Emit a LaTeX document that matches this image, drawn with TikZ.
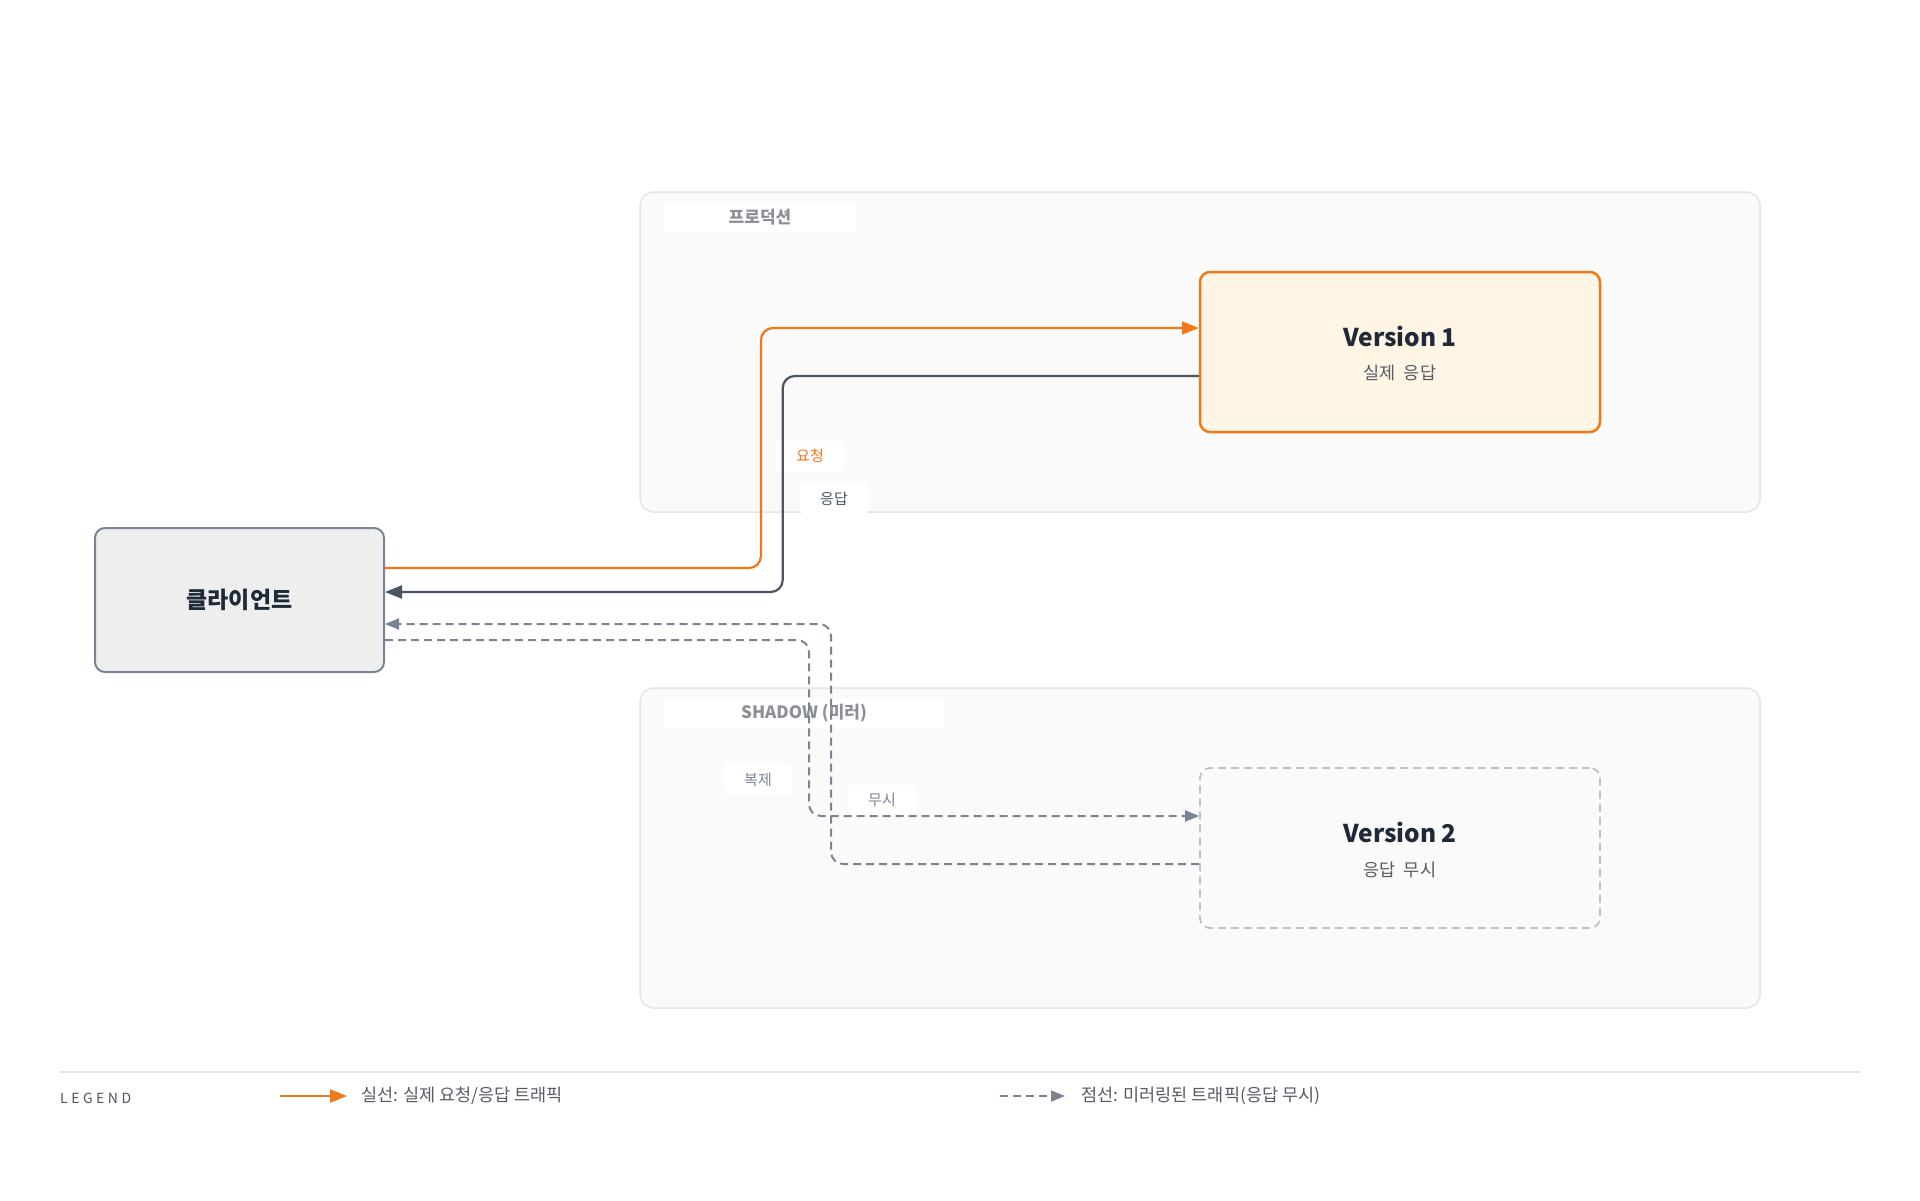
\documentclass[tikz,border=0pt]{standalone}
\usepackage{fontspec}
\setmainfont{Noto Sans CJK KR}
\newfontfamily\legendfont[LetterSpace=25]{Noto Sans CJK KR}
\usetikzlibrary{arrows.meta}
\definecolor{reqorange}{RGB}{240,120,22}
\definecolor{resgray}{RGB}{75,85,99}
\definecolor{slate}{RGB}{123,132,148}
\definecolor{zonefill}{RGB}{250,250,250}
\definecolor{zoneline}{RGB}{230,230,230}
\definecolor{titlegray}{RGB}{138,143,152}
\definecolor{v1fill}{RGB}{255,245,229}
\definecolor{clientfill}{RGB}{238,238,238}
\definecolor{v2line}{RGB}{190,193,198}
\definecolor{ink}{RGB}{31,41,55}
\definecolor{subink}{RGB}{85,91,101}

\begin{document}
\begin{tikzpicture}[x=1pt,y=-1pt,
	zone/.style={draw=zoneline,fill=zonefill,line width=1.5pt,rounded corners=14pt,minimum width=1120pt,minimum height=320pt,inner sep=0pt},
	zonetitle/.style={fill=white,rounded corners=4pt,minimum height=30pt,inner sep=0pt,text=titlegray,font=\fontsize{17}{20}\selectfont\bfseries},
	svcbox/.style={rounded corners=10pt,minimum width=400pt,minimum height=160pt,inner sep=0pt},
	svctitle/.style={inner sep=0pt,text=ink,font=\fontsize{24.5}{29}\selectfont\bfseries},
	svcnote/.style={inner sep=0pt,text=subink,font=\fontsize{17.5}{21}\selectfont},
	flowlabel/.style={fill=white,rounded corners=4pt,minimum width=68pt,minimum height=31pt,inner sep=0pt,font=\fontsize{15}{18}\selectfont},
	reqline/.style={draw=reqorange,line width=2.2pt,rounded corners=12pt,-{Triangle[length=17pt,width=13pt]}},
	resline/.style={draw=resgray,line width=2.2pt,rounded corners=12pt,-{Triangle[length=17pt,width=13pt]}},
	mirline/.style={draw=slate,line width=2pt,dash pattern=on 8pt off 5pt,rounded corners=12pt,-{Triangle[length=14pt,width=11pt]}},
	legendtext/.style={inner sep=0pt,anchor=west,text=subink,font=\fontsize{17.5}{21}\selectfont}]
	\fill[white] (0,0) rectangle (1920,1200);
	\useasboundingbox (0,0) rectangle (1920,1200);

	\node[zone] (prod) at (1200,352) {};
	\node[zone] (shadow) at (1200,848) {};
	\node[zonetitle,minimum width=192pt] (prodtitle) at (760,217.5) {프로덕션};
	\node[zonetitle,minimum width=280pt] (shadowtitle) at (804,713.5) {SHADOW (미러)};

	\node[svcbox,draw=reqorange,fill=v1fill,line width=2.5pt] (v1) at (1400,352) {};
	\node[svctitle] (v1title) at (1400,336) {Version 1};
	\node[svcnote] (v1note) at (1400,373) {실제\hspace{0.45em}응답};
	\node[svcbox,draw=v2line,fill=zonefill,line width=1.8pt,dash pattern=on 8pt off 5pt] (v2) at (1400,848) {};
	\node[svctitle] (v2title) at (1400,832) {Version 2};
	\node[svcnote] (v2note) at (1400,870) {응답\hspace{0.45em}무시};

	\node[draw=slate,fill=clientfill,line width=2pt,rounded corners=10pt,minimum width=289pt,minimum height=144pt,text=ink,font=\fontsize{23}{28}\selectfont\bfseries] (client) at (239.5,600) {클라이언트};

	\node[flowlabel,text=reqorange] (reqlabel) at (810,456) {요청};
	\node[flowlabel,text=resgray] (reslabel) at (834,498.5) {응답};
	\node[flowlabel,text=slate] (copylabel) at (758,779.5) {복제};
	\node[flowlabel,text=slate] (droplabel) at (882,800) {무시};

	\coordinate (reqout) at ([yshift=32pt]client.east);
	\coordinate (reqin) at ([yshift=24pt]v1.west);
	\coordinate (resout) at ([yshift=-24pt]v1.west);
	\coordinate (resin) at ([yshift=8pt]client.east);
	\coordinate (copyout) at ([yshift=-40pt]client.east);
	\coordinate (copyin) at ([yshift=32pt]v2.west);
	\coordinate (dropout) at ([yshift=-16pt]v2.west);
	\coordinate (dropin) at ([yshift=-24pt]client.east);
	\draw[reqline] (reqout) -- ++(376,0) |- (reqin);
	\draw[resline] (resout) -- ++(-416,0) |- (resin);
	\draw[mirline] (copyout) -- ++(424,0) |- (copyin);
	\draw[mirline] (dropout) -- ++(-368,0) |- (dropin);

	\draw[zoneline,line width=2pt] (60,1072) -- (1860,1072);
	\node[inner sep=0pt,anchor=west,text=resgray,font=\legendfont\fontsize{14}{17}\selectfont] (legend) at (60,1098) {LEGEND};
	\coordinate (solidfrom) at (280,1096);
	\coordinate (solidto) at (347,1096);
	\draw[reqline] (solidfrom) -- (solidto);
	\node[legendtext] (solidnote) at (361,1096) {실선: 실제 요청/응답 트래픽};
	\coordinate (dashfrom) at (1000,1096);
	\coordinate (dashto) at (1065,1096);
	\draw[mirline] (dashfrom) -- (dashto);
	\node[legendtext] (dashnote) at (1081,1096) {점선: 미러링된 트래픽(응답 무시)};
\end{tikzpicture}
\end{document}
